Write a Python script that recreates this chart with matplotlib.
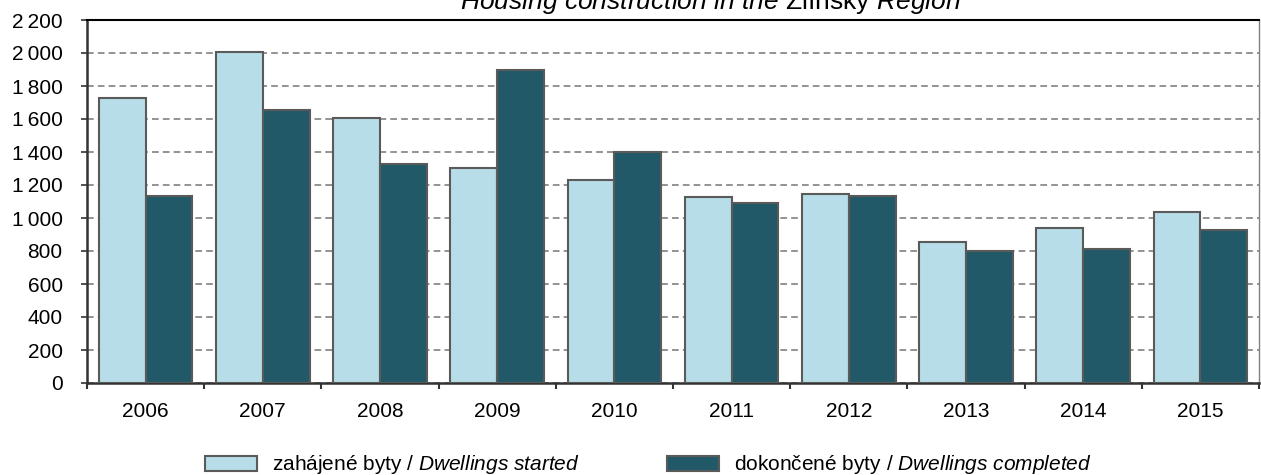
import matplotlib
matplotlib.use("Agg")
import matplotlib.pyplot as plt
import numpy as np
from matplotlib.ticker import FuncFormatter, FixedLocator

plt.rcParams['font.family'] = ['Liberation Sans', 'DejaVu Sans']
plt.rcParams['mathtext.fontset'] = 'custom'
plt.rcParams['mathtext.rm'] = 'Liberation Sans'
plt.rcParams['mathtext.it'] = 'Liberation Sans:italic'

years = ['2006', '2007', '2008', '2009', '2010', '2011', '2012', '2013', '2014', '2015']
started = [1730, 2005, 1605, 1305, 1230, 1125, 1147, 856, 941, 1038]
completed = [1135, 1655, 1327, 1898, 1400, 1088, 1135, 800, 810, 927]
label_started = "zahájené byty / $\\mathit{Dwellings\\ started}$"
label_completed = "dokončené byty / $\\mathit{Dwellings\\ completed}$"
title = "$\\mathit{Housing\\ construction\\ in\\ the}$ Zlínský $\\mathit{Region}$"

c_light = '#B7DDE8'
c_dark = '#215968'
edge = '#5A5A5A'

fig = plt.figure(figsize=(12.61, 4.75), dpi=100)
ax = fig.add_axes([87/1261, 1-383/475, (1259-87)/1261, (383-20)/475])

x = np.arange(len(years))
w = 0.4
ax.bar(x - w/2, started, w, color=c_light, edgecolor=edge, linewidth=1.5, label=label_started, zorder=3)
ax.bar(x + w/2, completed, w, color=c_dark, edgecolor=edge, linewidth=1.5, label=label_completed, zorder=3)

ax.set_xlim(-0.5, len(years) - 0.5)
ax.set_ylim(0, 2200)
ax.set_yticks(np.arange(0, 2201, 200))
ax.yaxis.set_major_formatter(FuncFormatter(lambda v, p: f"{int(v):,}".replace(",", "\u2009")))
ax.set_xticks(x)
ax.set_xticklabels(years)
ax.xaxis.set_minor_locator(FixedLocator(np.arange(-0.5, len(years), 1.0)))
ax.tick_params(axis='x', which='major', length=0, pad=14, labelsize=15)
ax.tick_params(axis='x', which='minor', length=4.5, width=1.5, color='#333333')
ax.tick_params(axis='y', which='major', length=4.5, width=1.2, color='#333333', labelsize=15, pad=13)

ax.grid(axis='y', linestyle=(0, (4, 2.5)), color='#808080', linewidth=1.2, zorder=0)
for s in ['left', 'bottom']:
    ax.spines[s].set_color('#333333')
    ax.spines[s].set_linewidth(1.8)
ax.spines['top'].set_color('#000000')
ax.spines['top'].set_linewidth(1.5)
ax.spines['right'].set_color('#808080')
ax.spines['right'].set_linewidth(1.0)

fig.text(710/1261, 1-9/475, title, ha='center', va='baseline', fontsize=19)

leg = fig.legend(loc='center left', bbox_to_anchor=(205/1261, 1-465/475), ncol=2, frameon=False,
                 fontsize=15, handlelength=2.5, handleheight=0.72, columnspacing=4.2,
                 handletextpad=0.72, borderpad=0, borderaxespad=0)

fig.savefig('out.png', dpi=100)
